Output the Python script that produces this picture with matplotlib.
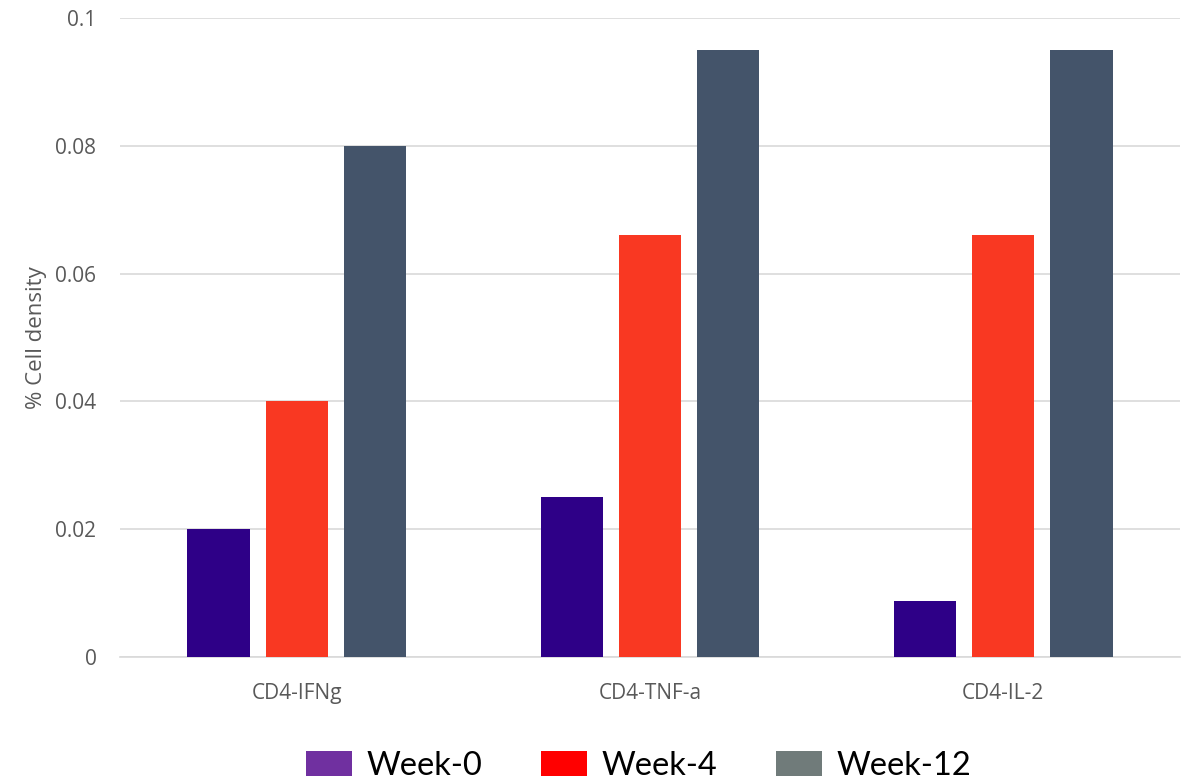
import matplotlib
matplotlib.use("Agg")
import matplotlib.pyplot as plt
from matplotlib.patches import Patch
import numpy as np

categories = ["CD4-IFNg", "CD4-TNF-a", "CD4-IL-2"]
series_names = ["Week-0", "Week-4", "Week-12"]
week0 = [0.020, 0.025, 0.0088]
week4 = [0.040, 0.066, 0.066]
week12 = [0.080, 0.095, 0.095]
y_ticks = [0, 0.02, 0.04, 0.06, 0.08, 0.1]
y_tick_labels = ["0", "0.02", "0.04", "0.06", "0.08", "0.1"]

bar_colors = ["#2E0087", "#F93822", "#44546A"]
legend_colors = ["#7030A0", "#FF0000", "#707B7A"]

fig = plt.figure(figsize=(11.89, 7.81), dpi=100)
ax = fig.add_axes([120 / 1189, 1 - 657 / 781, 1060 / 1189, (657 - 18) / 781])

x = np.arange(len(categories))
width = 0.176
step = 0.221
for i, vals in enumerate([week0, week4, week12]):
    ax.bar(x + (i - 1) * step, vals, width=width, color=bar_colors[i], zorder=3)

ax.set_xlim(-0.5, len(categories) - 0.5)
ax.set_ylim(0, 0.1)
ax.set_yticks(y_ticks)
ax.set_yticklabels(y_tick_labels)
ax.set_xticks(x)
ax.set_xticklabels(categories)
ax.grid(axis="y", color="#D9D9D9", linewidth=1.2, zorder=0)
for side in ["top", "right", "left"]:
    ax.spines[side].set_visible(False)
ax.spines["bottom"].set_color("#D9D9D9")
ax.spines["bottom"].set_linewidth(1.2)
ax.tick_params(axis="y", length=0, labelsize=15, labelcolor="#595959", pad=17)
ax.tick_params(axis="x", length=0, labelsize=15, labelcolor="#595959", pad=19)
for lbl in ax.get_xticklabels() + ax.get_yticklabels():
    lbl.set_fontfamily("Open Sans")
ax.set_ylabel("% Cell density", fontsize=16, color="#595959",
              fontfamily="Open Sans", labelpad=6)

handles = [Patch(facecolor=c, edgecolor="none") for c in legend_colors]
fig.legend(handles, series_names, loc="lower center", ncol=3,
           bbox_to_anchor=(0.537, -0.038), frameon=False,
           prop={"family": "Lato", "size": 23.5},
           handlelength=1.4, handleheight=0.8, columnspacing=1.8,
           handletextpad=0.45)

fig.savefig("out.png", dpi=100, facecolor="white")
